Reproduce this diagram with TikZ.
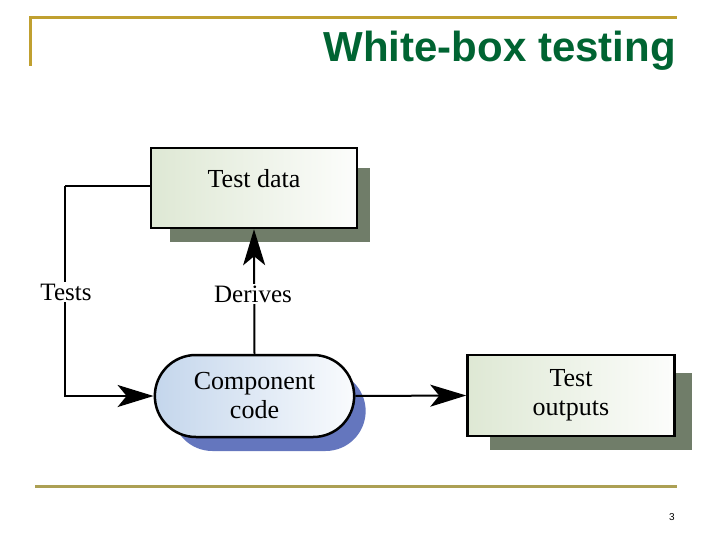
\documentclass[tikz,border=0pt]{standalone}
\usepackage{fontspec}
\setmainfont{Liberation Serif}
\newfontfamily\titlefont{Liberation Sans}
\usetikzlibrary{arrows.meta,shapes.misc}
\definecolor{gold}{RGB}{192,160,48}
\definecolor{goldb}{RGB}{172,160,84}
\definecolor{titlegreen}{RGB}{0,100,50}
\definecolor{shgreen}{RGB}{112,125,105}
\definecolor{shblue}{RGB}{100,118,190}
\definecolor{boxgreen}{RGB}{222,232,212}
\definecolor{boxblue}{RGB}{196,214,236}
\tikzset{
  x=1pt,y=-1pt,
  lbl/.style={font=\fontsize{26}{28}\selectfont, align=center},
  greenbox/.style={draw=black, line width=2.5pt, left color=boxgreen, right color=white!92!boxgreen, minimum width=206pt, minimum height=80pt, lbl},
  pillbox/.style={draw=black, line width=2.5pt, rounded rectangle, left color=boxblue, right color=white!90!boxblue, minimum width=206pt, minimum height=82pt, lbl},
  conn/.style={line width=2pt, -{Stealth[length=36pt,width=22pt,inset=9pt]}},
  plain/.style={line width=2pt},
  edgelbl/.style={fill=white, inner sep=2pt, font=\fontsize{25}{27}\selectfont}
}
\begin{document}
\begin{tikzpicture}
\useasboundingbox (0,0) rectangle (720,540);
% frame lines
\draw[gold, line width=3pt] (30,66) -- (30,18) -- (677,18);
\draw[goldb, line width=3pt] (35,486) -- (677,486);
\node[anchor=base east, text=titlegreen, font=\titlefont\bfseries\fontsize{42}{46}\selectfont, inner sep=0pt] (title) at (676,62) {White-box testing};
\node[font=\titlefont\fontsize{10}{12}\selectfont, inner sep=0pt] (pnum) at (672,517) {3};
% shadows
\fill[shgreen] (170,168) rectangle (370,242);
\fill[shgreen] (490,373) rectangle (692,450);
\node[rounded rectangle, fill=shblue, minimum width=200pt, minimum height=80pt] (ccshadow) at (269,411) {};
% boxes
\node[greenbox, text height=18pt, text depth=18pt] (td) at (254,188) {Test data};
\node[pillbox] (cc) at (254.5,396) {Component\\[1pt]code};
\node[greenbox, minimum width=207pt, minimum height=81pt] (to) at (571,395.5) {Test\\[1pt]outputs};
% connectors
\coordinate (corner) at (65,186);
\draw[plain] (td.west |- corner) -- (corner);
\draw[conn] (corner) |- (cc.west);
\draw[conn] (cc.north) -- (td.south);
\draw[conn] (cc.east) -- (to.west);
\node[edgelbl] (tests) at (66,292) {Tests};
\node[edgelbl] (derives) at (253,294) {Derives};
\end{tikzpicture}
\end{document}
